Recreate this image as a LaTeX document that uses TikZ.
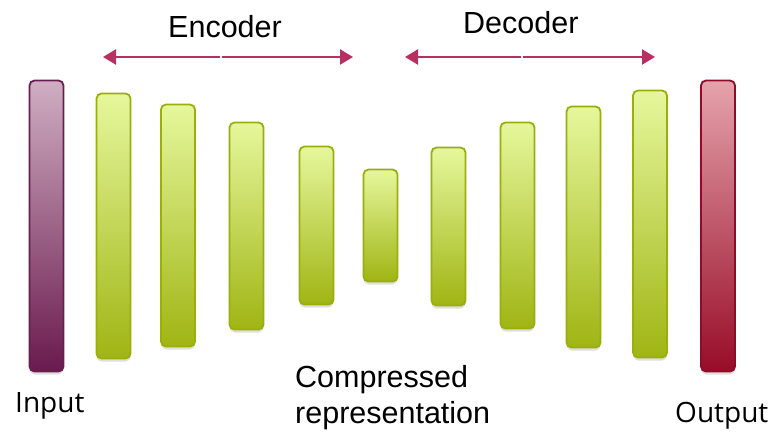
\documentclass[tikz,border=0pt]{standalone}
\usepackage{fontspec}
\setmainfont{Liberation Sans}
\newfontfamily\segoe{Open Sans}
\usetikzlibrary{arrows.meta,shadows}
\definecolor{gtop}{HTML}{E6F79C}
\definecolor{gbot}{HTML}{A0B514}
\definecolor{gline}{HTML}{9AAE0C}
\definecolor{itop}{HTML}{CFAEC2}
\definecolor{ibot}{HTML}{6A1A4E}
\definecolor{iline}{HTML}{6A1D50}
\definecolor{otop}{HTML}{E5A3AB}
\definecolor{obot}{HTML}{980C28}
\definecolor{oline}{HTML}{900A2A}
\definecolor{arr}{HTML}{B83060}
\tikzset{
  barbase/.style={rounded corners=5pt, line width=1.8pt, minimum width=34pt, inner sep=0pt,
    drop shadow={opacity=0.25, shadow xshift=0pt, shadow yshift=-3pt}},
  greenbar/.style={barbase, draw=gline, top color=gtop, bottom color=gbot},
  inbar/.style={barbase, draw=iline, top color=itop, bottom color=ibot},
  outbar/.style={barbase, draw=oline, top color=otop, bottom color=obot},
  lbl/.style={font=\fontsize{30.5}{36}\selectfont, inner sep=0pt, align=left, anchor=base west},
  lbl2/.style={font=\segoe\fontsize{28}{34}\selectfont, inner sep=0pt, anchor=base west},
  span/.style={draw=arr, line width=2.4pt, -{Triangle[length=13pt,width=15pt]}}
}
\begin{document}
\begin{tikzpicture}[x=1pt,y=-1pt]
\useasboundingbox (0,0) rectangle (775,431);
\node[inbar, minimum height=291pt] (in) at (46.5,226) {};
\node[outbar, minimum height=291pt] (out) at (718,226) {};
\node[greenbar, minimum height=265pt] (g1) at (113.5,226) {};
\node[greenbar, minimum height=242pt] (g2) at (178,225.5) {};
\node[greenbar, minimum height=207pt] (g3) at (246.5,226) {};
\node[greenbar, minimum height=158pt] (g4) at (316.5,225.5) {};
\node[greenbar, minimum height=112pt] (g5) at (380.5,225.5) {};
\node[greenbar, minimum height=158pt] (g6) at (448.5,226.5) {};
\node[greenbar, minimum height=206pt] (g7) at (517.5,225.5) {};
\node[greenbar, minimum height=241pt] (g8) at (583.5,227) {};
\node[greenbar, minimum height=267pt] (g9) at (650,224) {};
\node[lbl] (enc) at (168,37) {Encoder};
\node[lbl] (dec) at (463,33) {Decoder};
\node[lbl2] (inl) at (15,412) {Input};
\node[lbl2] (outl) at (675,422) {Output};
\node[lbl] (cmp) at (295,423) {Compressed\\representation};
\coordinate (em) at (221,57);
\coordinate (el) at (103,57);
\coordinate (er) at (353,57);
\coordinate (dm) at (522,57);
\coordinate (dl) at (405,57);
\coordinate (dr) at (655,57);
\draw[span] ([xshift=-0.7pt]em) -- (el);
\draw[span] ([xshift=0.7pt]em) -- (er);
\draw[span] ([xshift=-0.7pt]dm) -- (dl);
\draw[span] ([xshift=0.7pt]dm) -- (dr);
\end{tikzpicture}
\end{document}
